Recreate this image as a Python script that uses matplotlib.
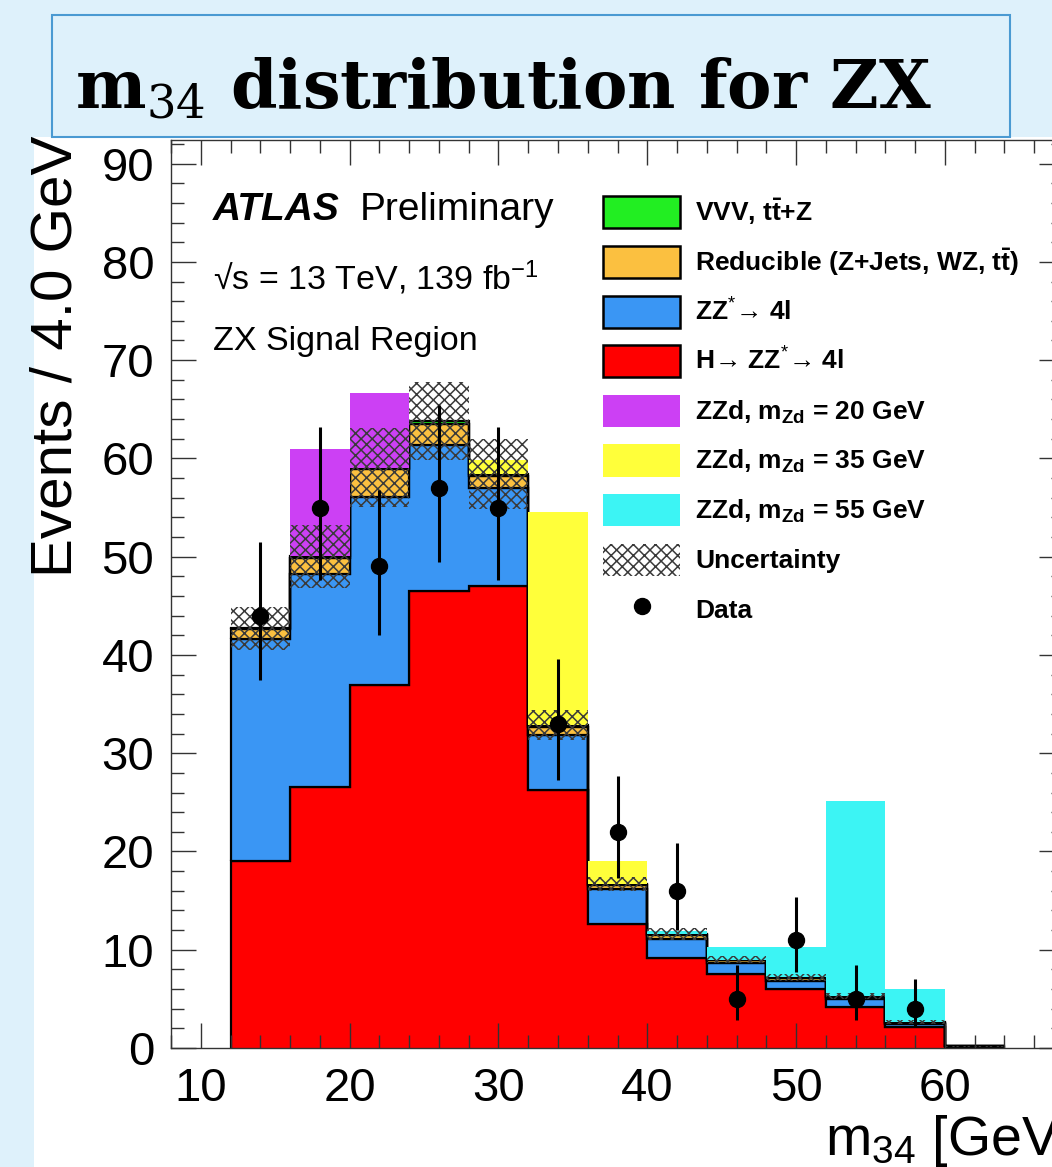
import numpy as np
import matplotlib
matplotlib.use('Agg')
import matplotlib.pyplot as plt
from matplotlib.patches import Patch, Rectangle
from matplotlib.lines import Line2D
from matplotlib.ticker import MultipleLocator

plt.rcParams['font.family'] = ['Liberation Sans', 'DejaVu Sans']
plt.rcParams['mathtext.fontset'] = 'custom'
plt.rcParams['mathtext.rm'] = 'Liberation Sans'
plt.rcParams['mathtext.it'] = 'Liberation Sans:italic'
plt.rcParams['mathtext.bf'] = 'Liberation Sans:bold'
plt.rcParams['hatch.linewidth'] = 1.1

# bin edges of m34 (4 GeV bins)
edges = np.array([12, 16, 20, 24, 28, 32, 36, 40, 44, 48, 52, 56, 60, 64])

# background stack, bottom to top
h4l = np.array([19.0, 26.6, 36.9, 46.5, 47.0, 26.3, 12.6, 9.2, 7.5, 6.0, 4.2, 2.1, 0.1])
zz = np.array([22.6, 21.6, 19.2, 14.9, 10.0, 5.6, 3.6, 1.9, 1.2, 0.8, 0.8, 0.3, 0.1])
reducible = np.array([1.0, 1.7, 2.8, 2.1, 1.2, 0.8, 0.4, 0.4, 0.25, 0.35, 0.2, 0.15, 0.0])
vvv = np.array([0.1, 0.15, 0.15, 0.3, 0.2, 0.15, 0.1, 0.1, 0.05, 0.05, 0.05, 0.05, 0.0])
unc = np.array([2.2, 3.2, 4.0, 4.0, 3.6, 1.5, 0.7, 0.6, 0.4, 0.35, 0.3, 0.2, 0.05])

# ZZd signals, stacked on the total background
sig20 = np.array([0, 10.9, 7.6, 0, 0, 0, 0, 0, 0, 0, 0, 0, 0])
sig35 = np.array([0, 0, 0, 0, 1.4, 21.7, 2.3, 0, 0, 0, 0, 0, 0])
sig55 = np.array([0, 0, 0, 0, 0, 0, 0, 0.3, 1.3, 3.1, 19.9, 3.4, 0])

# data
data = np.array([44, 55, 49, 57, 55, 33, 22, 16, 5, 11, 5, 4])
err_lo = np.array([6.6, 7.4, 7.0, 7.5, 7.4, 5.7, 4.7, 4.0, 2.2, 3.3, 2.2, 1.9])
err_hi = np.array([7.5, 8.2, 7.8, 8.4, 8.2, 6.6, 5.7, 4.9, 3.4, 4.4, 3.4, 3.0])

c_vvv = '#22ee22'
c_red = '#fbc040'
c_zz = '#3a96f4'
c_h = '#ff0000'
c_20 = '#cc40f4'
c_35 = '#ffff3a'
c_55 = '#3cf4f4'
bg = '#def1fb'

fig = plt.figure(figsize=(10.52, 11.67), dpi=100, facecolor=bg)
W, H = 1052.0, 1167.0
fig.add_artist(Rectangle((34 / W, 0), 1 - 34 / W, (H - 137) / H, transform=fig.transFigure,
                         facecolor='white', edgecolor='none', zorder=-1))

ax = fig.add_axes([171 / W, (H - 1048) / H, 893 / W, 908 / H])

# stacked backgrounds
b1 = h4l
b2 = b1 + zz
b3 = b2 + reducible
b4 = b3 + vvv
for lo, hi, col in [(0, b1, c_h), (b1, b2, c_zz), (b2, b3, c_red), (b3, b4, c_vvv)]:
    ax.stairs(hi, edges, baseline=lo, fill=True, facecolor=col, edgecolor='black', lw=1.6)

# signals on top of total background
for sig, col in [(sig20, c_20), (sig35, c_35), (sig55, c_55)]:
    ax.stairs(b4 + sig, edges, baseline=b4, fill=True, facecolor=col, edgecolor='none', lw=0)

# uncertainty band
ax.stairs(b4 + unc, edges, baseline=b4 - unc, fill=True, facecolor='none',
          edgecolor='#3a3a3a', hatch='xxx', lw=0)

centers = 0.5 * (edges[:-1] + edges[1:])[:len(data)]
ax.errorbar(centers, data, yerr=[err_lo, err_hi], fmt='o', color='black', ms=11.5,
            elinewidth=2.2, capsize=0, zorder=6)

ax.set_xlim(8, 68)
ax.set_ylim(0, 92.4)
ax.xaxis.set_major_locator(MultipleLocator(10))
ax.xaxis.set_minor_locator(MultipleLocator(2))
ax.yaxis.set_major_locator(MultipleLocator(10))
ax.yaxis.set_minor_locator(MultipleLocator(2))
ax.tick_params(which='both', direction='in', top=True, right=True, width=1.0, color='#333333')
ax.tick_params(which='major', length=18)
ax.tick_params(which='minor', length=9.5)
ax.tick_params(axis='y', labelsize=34, pad=12)
ax.tick_params(axis='x', labelsize=34, pad=14)
for s in ax.spines.values():
    s.set_linewidth(1.0)
    s.set_color('#333333')

# ATLAS labels
ax.text(0.047, 0.912, 'ATLAS', transform=ax.transAxes, fontsize=28, fontweight='bold',
        fontstyle='italic', va='baseline')
ax.text(0.2116, 0.912, 'Preliminary', transform=ax.transAxes, fontsize=28, va='baseline')
ax.text(0.047, 0.835, '\u221as = 13 TeV, 139 fb$^{-1}$', transform=ax.transAxes,
        fontsize=24.5, va='baseline')
ax.text(0.047, 0.769, 'ZX Signal Region', transform=ax.transAxes, fontsize=24.5, va='baseline')

handles = [
    Patch(facecolor=c_vvv, edgecolor='black', lw=1.8),
    Patch(facecolor=c_red, edgecolor='black', lw=1.8),
    Patch(facecolor=c_zz, edgecolor='black', lw=1.8),
    Patch(facecolor=c_h, edgecolor='black', lw=1.8),
    Patch(facecolor=c_20, edgecolor='none'),
    Patch(facecolor=c_35, edgecolor='none'),
    Patch(facecolor=c_55, edgecolor='none'),
    Patch(facecolor='white', edgecolor='#3a3a3a', hatch='xxx', lw=0),
    Line2D([], [], marker='o', ls='none', color='black', ms=11.5),
]
labels = [
    r'VVV, t$\mathbf{\bar{t}}$+Z',
    r'Reducible (Z+Jets, WZ, t$\mathbf{\bar{t}}$)',
    'ZZ$^{*}$\u2192 4l',
    'H\u2192 ZZ$^{*}$\u2192 4l',
    r'ZZd, m$_{\mathbf{Zd}}$ = 20 GeV',
    r'ZZd, m$_{\mathbf{Zd}}$ = 35 GeV',
    r'ZZd, m$_{\mathbf{Zd}}$ = 55 GeV',
    'Uncertainty',
    'Data',
]
ax.legend(handles, labels, loc='upper left', bbox_to_anchor=(0.4843, 0.938), frameon=False,
          prop={'family': ['Liberation Sans', 'DejaVu Sans'], 'weight': 'bold', 'size': 19},
          handlelength=2.9, handleheight=1.5, labelspacing=0.66, handletextpad=0.57,
          borderpad=0, borderaxespad=0)

# axis titles
fig.text(57 / W, 1 - 136 / H, 'Events / 4.0 GeV', rotation=90, ha='center', va='top', fontsize=42)
fig.text(1072 / W, 1 - 1155 / H, 'm$_{34}$ [GeV]', ha='right', va='baseline', fontsize=40)

# slide title box
fig.add_artist(Rectangle((52 / W, 1 - 137 / H), (1010 - 52) / W, (137 - 15) / H,
                         transform=fig.transFigure, facecolor=bg, edgecolor='#4a9ad2',
                         lw=1.5, zorder=10))
fig.text(75 / W, 1 - 108 / H, r'm$_{34}$ distribution for ZX', fontsize=48, fontweight='bold',
         family='DejaVu Serif', math_fontfamily='dejavuserif', va='baseline', zorder=11)

fig.savefig('out.png', dpi=100, facecolor=bg)
